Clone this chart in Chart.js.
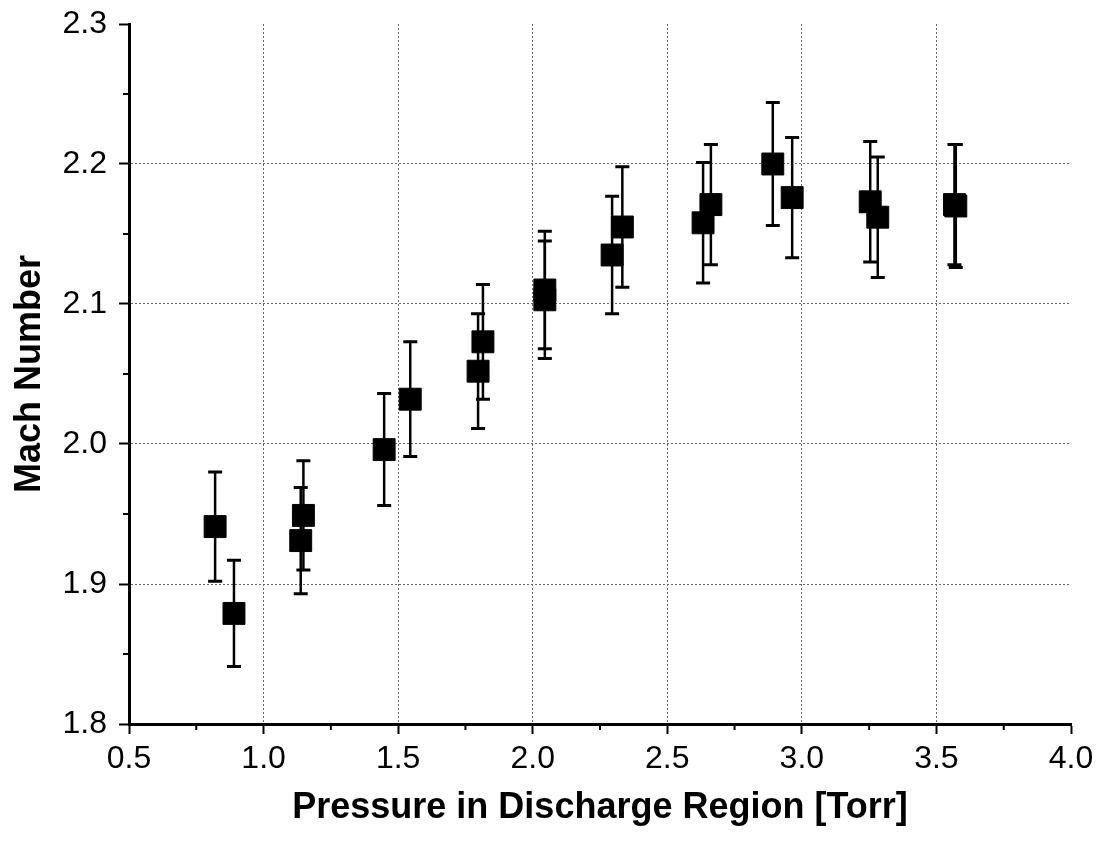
<!DOCTYPE html>
<html>
<head>
<meta charset="utf-8">
<title>Mach Number vs Pressure</title>
<script src="https://cdn.jsdelivr.net/npm/chart.js@4.4.1/dist/chart.umd.min.js"></script>
<style>
  body { margin: 0; background: #fff; }
  #wrap { width: 1103px; height: 841px; }
</style>
</head>
<body>
<div id="wrap"><canvas id="chart" width="1103" height="841"></canvas></div>
<script>
// pressure [Torr], Mach number and its error
const pressure = [0.82, 0.89, 1.148, 1.138, 1.448, 1.545, 1.797, 1.815, 2.045, 2.045,
                  2.295, 2.333, 2.633, 2.662, 2.892, 2.964, 3.254, 3.282, 3.567, 3.572];
const mach     = [1.941, 1.879, 1.949, 1.931, 1.996, 2.032, 2.052, 2.073, 2.110, 2.103,
                  2.135, 2.155, 2.158, 2.171, 2.200, 2.176, 2.173, 2.162, 2.171, 2.170];
const machErr  = [0.039, 0.038, 0.039, 0.038, 0.040, 0.041, 0.041, 0.041, 0.042, 0.042,
                  0.042, 0.043, 0.043, 0.043, 0.044, 0.043, 0.043, 0.043, 0.043, 0.044];

const xTicks = [0.5, 1.0, 1.5, 2.0, 2.5, 3.0, 3.5, 4.0];
const yTicks = [1.8, 1.9, 2.0, 2.1, 2.2, 2.3];
const xMinorTicks = [0.75, 1.25, 1.75, 2.25, 2.75, 3.25, 3.75];
const yMinorTicks = [1.85, 1.95, 2.05, 2.15, 2.25];

const FONT = "'Liberation Sans', Arial, sans-serif";

const errorBars = {
  id: "errorBars",
  beforeDatasetsDraw(chart) {
    const { ctx, scales: { x, y } } = chart;
    ctx.save();
    ctx.strokeStyle = "#000";
    pressure.forEach((p, i) => {
      const px = x.getPixelForValue(p);
      const top = y.getPixelForValue(mach[i] + machErr[i]);
      const bot = y.getPixelForValue(mach[i] - machErr[i]);
      ctx.lineWidth = 2.5;
      ctx.beginPath();
      ctx.moveTo(px, top);
      ctx.lineTo(px, bot);
      ctx.stroke();
      ctx.lineWidth = 3;
      ctx.beginPath();
      ctx.moveTo(px - 7, top); ctx.lineTo(px + 7, top);
      ctx.moveTo(px - 7, bot); ctx.lineTo(px + 7, bot);
      ctx.stroke();
    });
    ctx.restore();
  }
};

// small minor ticks between the labelled ones
const minorTicks = {
  id: "minorTicks",
  afterDraw(chart) {
    const { ctx, scales: { x, y } } = chart;
    ctx.save();
    ctx.strokeStyle = "#000";
    ctx.lineWidth = 2;
    ctx.beginPath();
    xMinorTicks.forEach(v => {
      const px = x.getPixelForValue(v);
      ctx.moveTo(px, x.top);
      ctx.lineTo(px, x.top + 6);
    });
    yMinorTicks.forEach(v => {
      const py = y.getPixelForValue(v);
      ctx.moveTo(y.right, py);
      ctx.lineTo(y.right - 6, py);
    });
    ctx.stroke();
    ctx.restore();
  }
};

const gridColor = (edgeValues) => (c) =>
  c.tick && edgeValues.some(v => Math.abs(v - c.tick.value) < 1e-6) ? "rgba(0,0,0,0)" : "#666";

new Chart(document.getElementById("chart"), {
  type: "scatter",
  data: {
    datasets: [{
      data: pressure.map((p, i) => ({ x: p, y: mach[i] })),
      pointStyle: "rect",
      pointRadius: 15.5,
      backgroundColor: "#000",
      borderColor: "#000",
      borderWidth: 1,
      showLine: false
    }]
  },
  options: {
    responsive: false,
    animation: false,
    events: [],
    layout: { padding: { left: 8, right: 32, top: 24, bottom: 11 } },
    plugins: { legend: { display: false }, tooltip: { enabled: false } },
    scales: {
      x: {
        type: "linear",
        position: "bottom",
        min: 0.5,
        max: 4.0,
        afterBuildTicks: s => { s.ticks = xTicks.map(v => ({ value: v })); },
        afterFit: s => { s.height = 106; },
        border: { color: "#000", width: 3, dash: [2, 2] },
        grid: { color: gridColor([0.5, 4.0]), lineWidth: 1, tickLength: 10, tickColor: "#000", tickWidth: 2 },
        ticks: { color: "#000", font: { family: FONT, size: 32 }, padding: 6, maxRotation: 0,
                 callback: v => v.toFixed(1) },
        title: { display: true, text: "Pressure in Discharge Region [Torr]", color: "#000",
                 font: { family: FONT, size: 36, weight: "bold" }, padding: { top: 0, bottom: 0 } }
      },
      y: {
        type: "linear",
        min: 1.8,
        max: 2.3,
        afterBuildTicks: s => { s.ticks = yTicks.map(v => ({ value: v })); },
        afterFit: s => { s.width = 121; s.paddingTop = 0; s.paddingBottom = 0; },
        border: { color: "#000", width: 3, dash: [2, 2] },
        grid: { color: gridColor([1.8, 2.3]), lineWidth: 1, tickLength: 10, tickColor: "#000", tickWidth: 2 },
        ticks: { color: "#000", font: { family: FONT, size: 32 }, padding: 12,
                 callback: v => v.toFixed(1) },
        title: { display: true, text: "Mach Number", color: "#000",
                 font: { family: FONT, size: 36, weight: "bold" }, padding: { top: 0, bottom: 0 } }
      }
    }
  },
  plugins: [errorBars, minorTicks]
});
</script>
</body>
</html>
